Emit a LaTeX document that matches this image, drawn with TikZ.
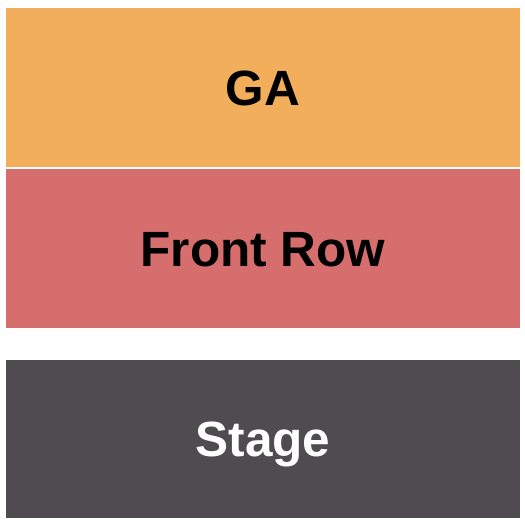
\documentclass[tikz,border=0pt]{standalone}
\usepackage{fontspec}
\setmainfont{Liberation Sans}
\definecolor{gaorange}{HTML}{F2AE5A}
\definecolor{frontred}{HTML}{D66E6E}
\definecolor{stagegray}{HTML}{4E4C4F}
\tikzset{
  section/.style={inner sep=0pt, outer sep=0pt, minimum width=514pt, anchor=north west,
    font=\fontsize{49.5}{49.5}\bfseries, text height=35.4pt, text depth=0pt},
}
\begin{document}
\begin{tikzpicture}[x=1pt,y=1pt]
\useasboundingbox (0,0) rectangle (525,525);
\node[section, fill=gaorange, minimum height=159pt, text=black] (ga) at (6,517) {GA};
\node[section, fill=frontred, minimum height=159pt, text=black] (front) at (6,356) {Front Row};
\node[section, fill=stagegray, minimum height=158pt, text=white] (stage) at (6,165) {Stage};
\end{tikzpicture}
\end{document}
